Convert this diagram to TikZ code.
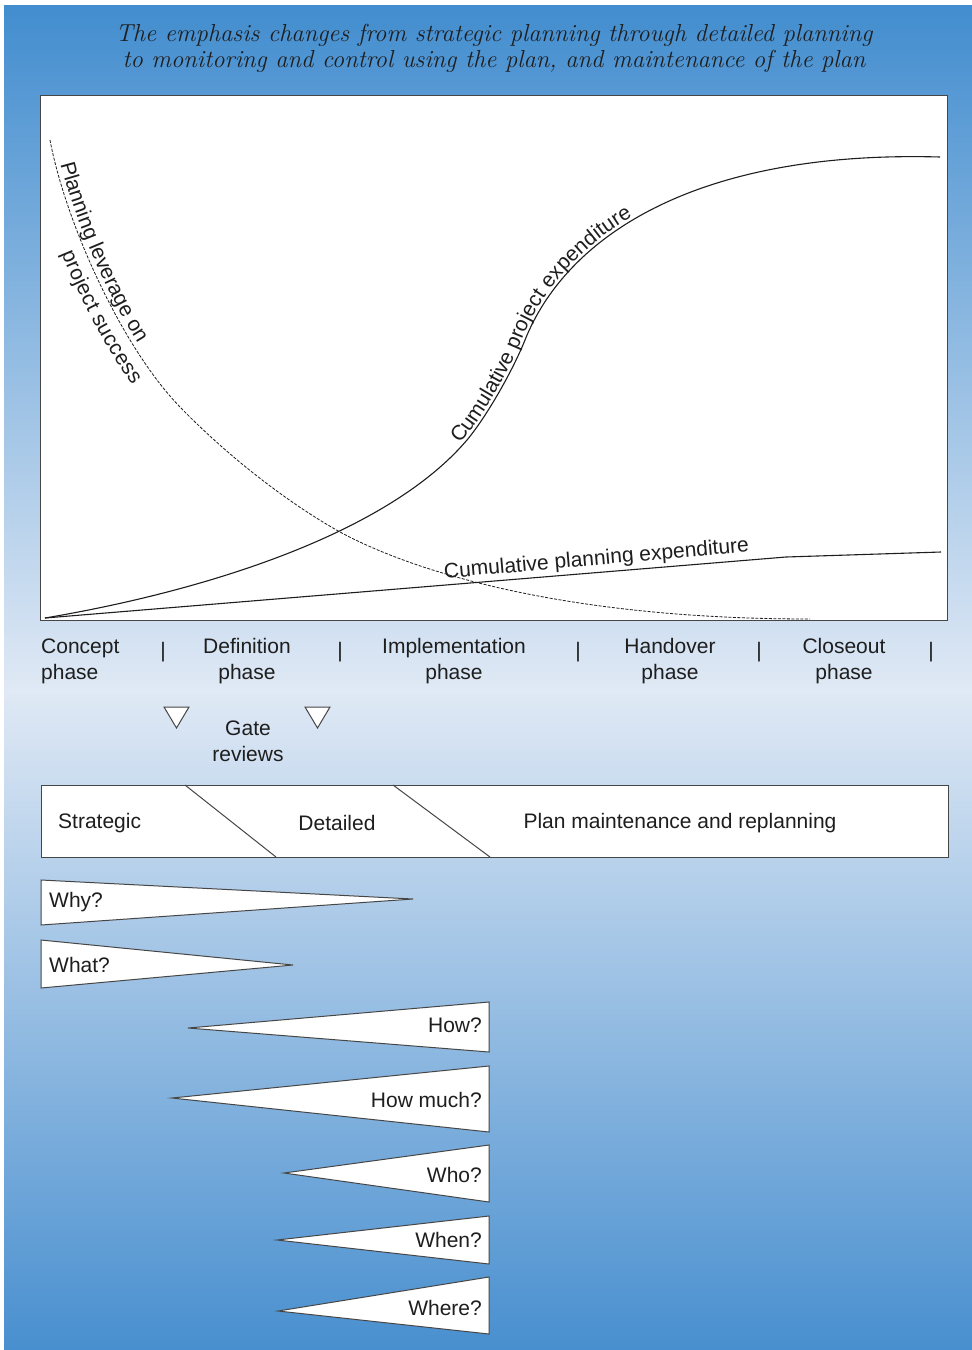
\documentclass[tikz,border=0pt]{standalone}
\usepackage{fontspec}
\newfontfamily\lsans{Liberation Sans}
\usetikzlibrary{decorations.text}
\definecolor{bgtop}{RGB}{66,141,207}
\definecolor{bglight}{RGB}{224,233,245}
\definecolor{bgbot}{RGB}{72,143,207}
\definecolor{ink}{RGB}{30,30,30}
\definecolor{frame}{RGB}{70,70,70}
\def\scurve{(45,618) .. controls (205,591) and (387,534) .. (467,440) .. controls (487,416) and (513,370) .. (525,340) .. controls (565,240) and (690,150) .. (940,157)}
\def\dcurve{(50,140) .. controls (65,220) and (120,345) .. (180,407) .. controls (230,458.5) and (290,504) .. (340,532) .. controls (410,570) and (560,619) .. (810,619)}
\begin{document}
\begin{tikzpicture}[x=1pt,y=-1pt,
  lbl/.style={font=\lsans\fontsize{21}{26}\selectfont, text=ink, inner sep=0pt},
  box/.style={draw=frame, fill=white, line width=1pt},
  wedge/.style={draw=frame, fill=white, line width=1pt, line join=miter},
  curve/.style={draw=ink, line width=1.1pt},
  dashcurve/.style={draw=ink, line width=0.8pt, dash pattern=on 3pt off 1.5pt}]
\useasboundingbox (0,0) rectangle (972,1350);
\fill[white] (0,0) rectangle (972,1350);
\shade[top color=bgtop,bottom color=bglight] (4,5) rectangle (972,691);
\shade[top color=bglight,bottom color=bgbot] (4,690) rectangle (972,1350);

% title
\node[font=\itshape\fontsize{24.6}{26}\selectfont, text=ink, align=center, inner sep=0pt] (title) at (494,48)
  {The emphasis changes from strategic planning through detailed planning\\to monitoring and control using the plan, and maintenance of the plan};

% chart
\draw[box] (40,95) rectangle (947,620);
\path[curve] \scurve;
\path[decorate, decoration={text along path, text align={left indent=458pt}, raise=3pt,
  text={|\lsans\fontsize{21}{26}\selectfont\color{ink}|Cumulative project expenditure}}] \scurve;
\draw[curve] (45,618) -- (786,557) -- (941,552);
\node[lbl, anchor=base, rotate=5] (plan) at (597,565) {Cumulative planning expenditure};
\path[dashcurve] \dcurve;
\path[decorate, decoration={text along path, text align={left indent=26pt}, raise=5pt,
  text={|\lsans\fontsize{21}{26}\selectfont\color{ink}|Planning leverage on}}] \dcurve;
\path[decorate, decoration={text along path, text align={left indent=110pt}, raise=-23pt,
  text={|\lsans\fontsize{21}{26}\selectfont\color{ink}|project success}}] \dcurve;

% phases
\node[lbl, align=left, anchor=west] (concept) at (41,661) {Concept\\phase};
\node[lbl, align=center] (definition) at (247,661) {Definition\\phase};
\node[lbl, align=center] (implementation) at (454,661) {Implementation\\phase};
\node[lbl, align=center] (handover) at (670,661) {Handover\\phase};
\node[lbl, align=center] (closeout) at (844,661) {Closeout\\phase};
\foreach \x/\n in {163/s1,340/s2,578/s3,759/s4,931/s5}
  \node[lbl] (\n) at (\x,652) {|};

% gate reviews
\draw[wedge] (164,707) -- (189,707) -- (176.5,728) -- cycle;
\draw[wedge] (305,707) -- (330,707) -- (317.5,728) -- cycle;
\node[lbl, align=center] (gate) at (248,741) {Gate\\reviews};

% planning types
\draw[box] (41,785) rectangle (948,857);
\draw[frame, line width=1pt] (185,785) -- (276,857);
\draw[frame, line width=1pt] (393,785) -- (490,857);
\node[lbl, anchor=west] (strategic) at (58,823) {Strategic};
\node[lbl] (detailed) at (337,823) {Detailed};
\node[lbl] (maint) at (680,823) {Plan maintenance and replanning};

% questions
\draw[wedge] (41,880) -- (413,899) -- (41,925) -- cycle;
\node[lbl, anchor=west] (why) at (49,902) {Why?};
\draw[wedge] (41,940) -- (293,965) -- (41,988) -- cycle;
\node[lbl, anchor=west] (what) at (49,965) {What?};
\draw[wedge] (489,1002) -- (188,1028) -- (489,1052) -- cycle;
\node[lbl, anchor=east] (how) at (482,1025) {How?};
\draw[wedge] (489,1066) -- (172,1098) -- (489,1132) -- cycle;
\node[lbl, anchor=east] (howmuch) at (482,1100) {How much?};
\draw[wedge] (489,1145) -- (284,1173) -- (489,1202) -- cycle;
\node[lbl, anchor=east] (who) at (482,1175) {Who?};
\draw[wedge] (489,1216) -- (277,1240) -- (489,1264) -- cycle;
\node[lbl, anchor=east] (when) at (482,1240) {When?};
\draw[wedge] (489,1277) -- (278,1311) -- (489,1334) -- cycle;
\node[lbl, anchor=east] (where) at (482,1308) {Where?};
\end{tikzpicture}
\end{document}
